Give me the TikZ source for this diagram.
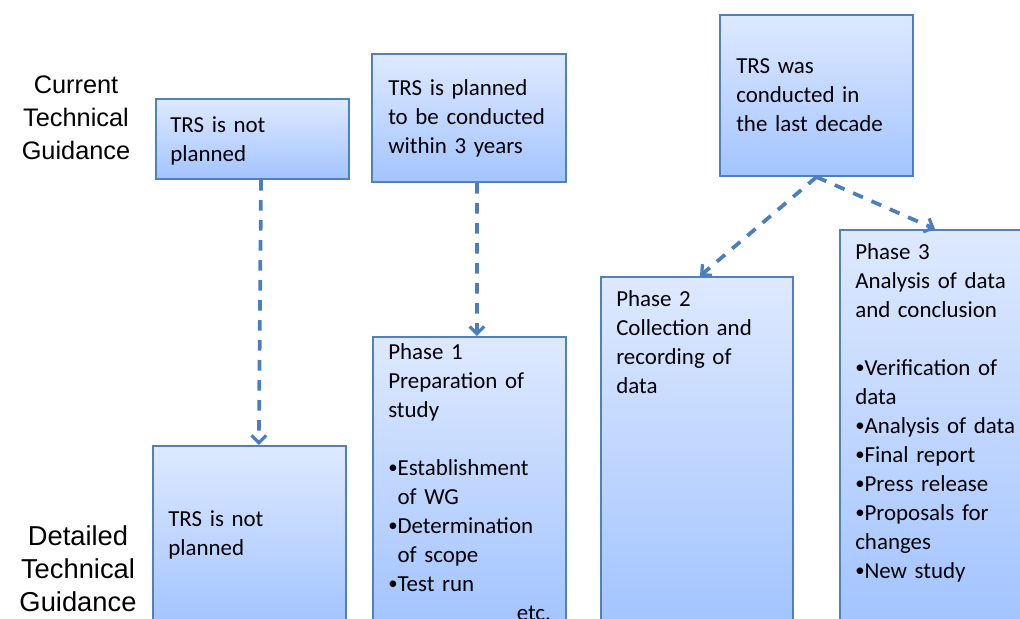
\documentclass[tikz,border=0pt]{standalone}
\usepackage{fontspec}
\setmainfont{Carlito}
\newfontfamily\arialf{Liberation Sans}
\usetikzlibrary{arrows.meta}
\definecolor{bordc}{RGB}{79,129,189}
\definecolor{arrc}{RGB}{74,126,192}
\definecolor{filltop}{RGB}{222,233,255}
\definecolor{fillbot}{RGB}{163,196,255}
\newcommand{\bul}{{\fontsize{14}{14}\selectfont\raisebox{0.8pt}{•}}}
\newcommand{\bulsp}{\phantom{\bul}}
\tikzset{
  x=0.75pt, y=-0.75pt,
  boxnode/.style={draw=bordc, line width=1.5pt, rectangle, inner sep=0pt,
    top color=filltop, bottom color=fillbot},
  boxtext/.style={anchor=base west, inner sep=0pt, align=left, text width=#1,
    font=\fontsize{17.2}{21.75}\selectfont},
  boxtext/.default=140pt,
  sidelabel/.style={align=center, inner sep=0pt, anchor=base, text width=110pt,
    font=\arialf\fontsize{19}{25}\selectfont},
  arr/.style={draw=arrc, line width=2.8pt, dash pattern=on 8pt off 7pt,
    -{Straight Barb[length=5.5pt,width=11pt,line width=2.4pt]}}
}
\begin{document}
\begin{tikzpicture}
\path[use as bounding box, clip] (0,0) rectangle (1020,618);

% side labels
\node[sidelabel] (cur) at (76,93) {Current\\Technical\\Guidance};
\node[sidelabel, font=\arialf\fontsize{20.5}{25}\selectfont] (det) at (78,545) {Detailed\\Technical\\Guidance};

% top boxes
\node[boxnode, minimum width=144.75pt, minimum height=60pt] (A) at (252.5,139) {};
\node[boxnode, minimum width=145.5pt, minimum height=96pt] (B) at (469,118) {};
\node[boxnode, minimum width=144.75pt, minimum height=120.75pt] (C) at (816.5,95.5) {};

% bottom boxes
\node[boxnode, minimum width=144.75pt, minimum height=132pt] (D) at (249.5,534) {};
\node[boxnode, minimum width=144.75pt, minimum height=213.75pt] (E) at (469.5,479.5) {};
\node[boxnode, minimum width=144pt, minimum height=258.75pt] (F) at (697,449.5) {};
\node[boxnode, minimum width=142.5pt, minimum height=294pt] (G) at (935,426) {};

% texts
\node[boxtext] (tA) at (170,132) {TRS is not\\planned};
\node[boxtext] (tB) at (388,95) {TRS is planned\\to be conducted\\within 3 years};
\node[boxtext] (tC) at (736,73) {TRS was\\conducted in\\the last decade};
\node[boxtext] (tD) at (168,526) {TRS is not\\planned};
\node[boxtext=122pt] (tE) at (388,359) {Phase 1\\Preparation of\\study\\[21.75pt]%
\bul Establishment\\\bulsp of WG\\\bul Determination\\\bulsp of scope\\\bul Test run\\\hspace*{\fill}etc.};
\node[boxtext] (tF) at (616,306) {Phase 2\\Collection and\\recording of\\data};
\node[boxtext] (tG) at (855,259) {Phase 3\\Analysis of data\\and conclusion\\[21.75pt]%
\bul Verification of\\data\\\bul Analysis of data\\\bul Final report\\\bul Press release\\\bul Proposals for\\changes\\\bul New study};

% connectors
\draw[arr] ([xshift=6.4pt]A.south) -- ([xshift=7pt]D.north);
\draw[arr] ([xshift=6pt]B.south) -- ([xshift=5.6pt]E.north);
\draw[arr] (C.south) -- ([xshift=2.2pt]F.north);
\draw[arr] (C.south) -- (G.north);
\end{tikzpicture}
\end{document}
